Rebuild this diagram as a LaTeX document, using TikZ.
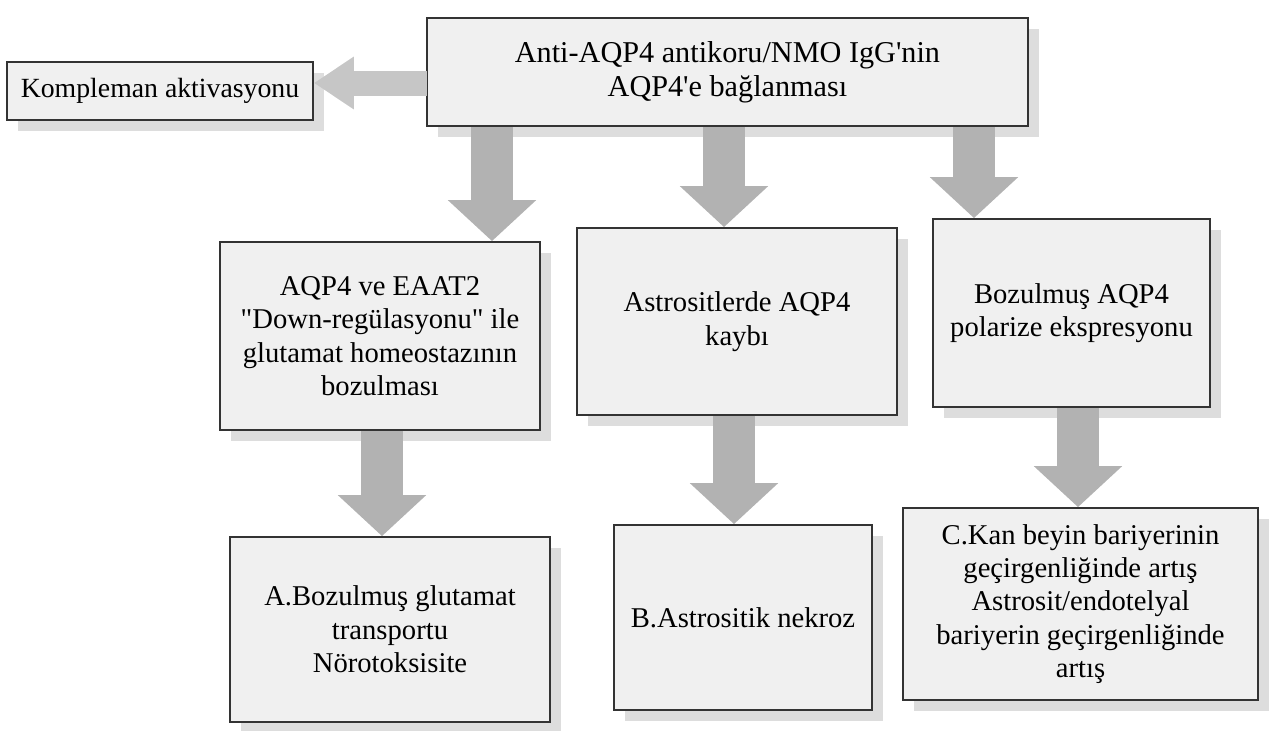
\documentclass[tikz,border=0pt]{standalone}
\usepackage{fontspec}
\setmainfont{Liberation Serif}
\usetikzlibrary{arrows.meta,shadows}

\begin{document}
\begin{tikzpicture}[
  box/.style={draw=black!80, line width=1pt, fill=gray!12, align=center, inner sep=2pt,
    font=\fontsize{16.3}{19}\selectfont,
    drop shadow={shadow xshift=6pt, shadow yshift=-6pt, fill=gray!45, opacity=0.6}},
  downarrow/.style={draw=gray!60, line width=0.84cm, -{Triangle[width=1.72cm,length=0.82cm]}},
  leftarrow/.style={draw=gray!45, line width=0.5cm, -{Triangle[width=1.0cm,length=0.8cm]}}
 ]
 \useasboundingbox (0,0) rectangle (25.72,-14.60);
 \node[box, minimum width=12.02cm, minimum height=2.16cm, font=\fontsize{17.2}{19.5}\selectfont] (top) at (14.55,-1.44) {Anti-AQP4 antikoru/NMO IgG\textquotesingle nin\\AQP4\textquotesingle e bağlanması};
 \node[box, minimum width=6.12cm, minimum height=1.16cm, font=\fontsize{15.8}{19}\selectfont] (komp) at (3.20,-1.82) {Kompleman aktivasyonu};
 \node[box, minimum width=6.40cm, minimum height=3.76cm] (glu) at (7.60,-6.72) {AQP4 ve EAAT2\\\textquotedbl Down-regülasyonu\textquotedbl{} ile\\glutamat homeostazının\\bozulması};
 \node[box, minimum width=6.40cm, minimum height=3.74cm] (kayip) at (14.74,-6.43) {Astrositlerde AQP4\\kaybı};
 \node[box, minimum width=5.54cm, minimum height=3.76cm] (polar) at (21.43,-6.26) {Bozulmuş AQP4\\polarize ekspresyonu};
 \node[box, minimum width=6.40cm, minimum height=3.70cm] (a) at (7.80,-12.59) {A.Bozulmuş glutamat\\transportu\\Nörotoksisite};
 \node[box, minimum width=5.16cm, minimum height=3.70cm] (b) at (14.86,-12.35) {B.Astrositik nekroz};
 \node[box, minimum width=7.10cm, minimum height=3.84cm] (c) at (21.61,-12.08) {C.Kan beyin bariyerinin\\geçirgenliğinde artış\\Astrosit/endotelyal\\bariyerin geçirgenliğinde\\artış};
 % arrows from the top box
 \coordinate (l0) at (8.54,-1.66);
 \coordinate (x1) at (9.84,0);
 \coordinate (x2) at (14.48,0);
 \coordinate (x3) at (19.48,0);
 \draw[leftarrow] (l0) -- (l0 -| komp.east);
 \draw[downarrow] (top.south -| x1) -- (glu.north -| x1);
 \draw[downarrow] (top.south -| x2) -- (kayip.north -| x2);
 \draw[downarrow] (top.south -| x3) -- (polar.north -| x3);
 % arrows to the results
 \coordinate (y1) at (7.64,0);
 \coordinate (y2) at (14.68,0);
 \coordinate (y3) at (21.56,0);
 \draw[downarrow] (glu.south -| y1) -- (a.north -| y1);
 \draw[downarrow] (kayip.south -| y2) -- (b.north -| y2);
 \draw[downarrow] (polar.south -| y3) -- (c.north -| y3);
\end{tikzpicture}
\end{document}
